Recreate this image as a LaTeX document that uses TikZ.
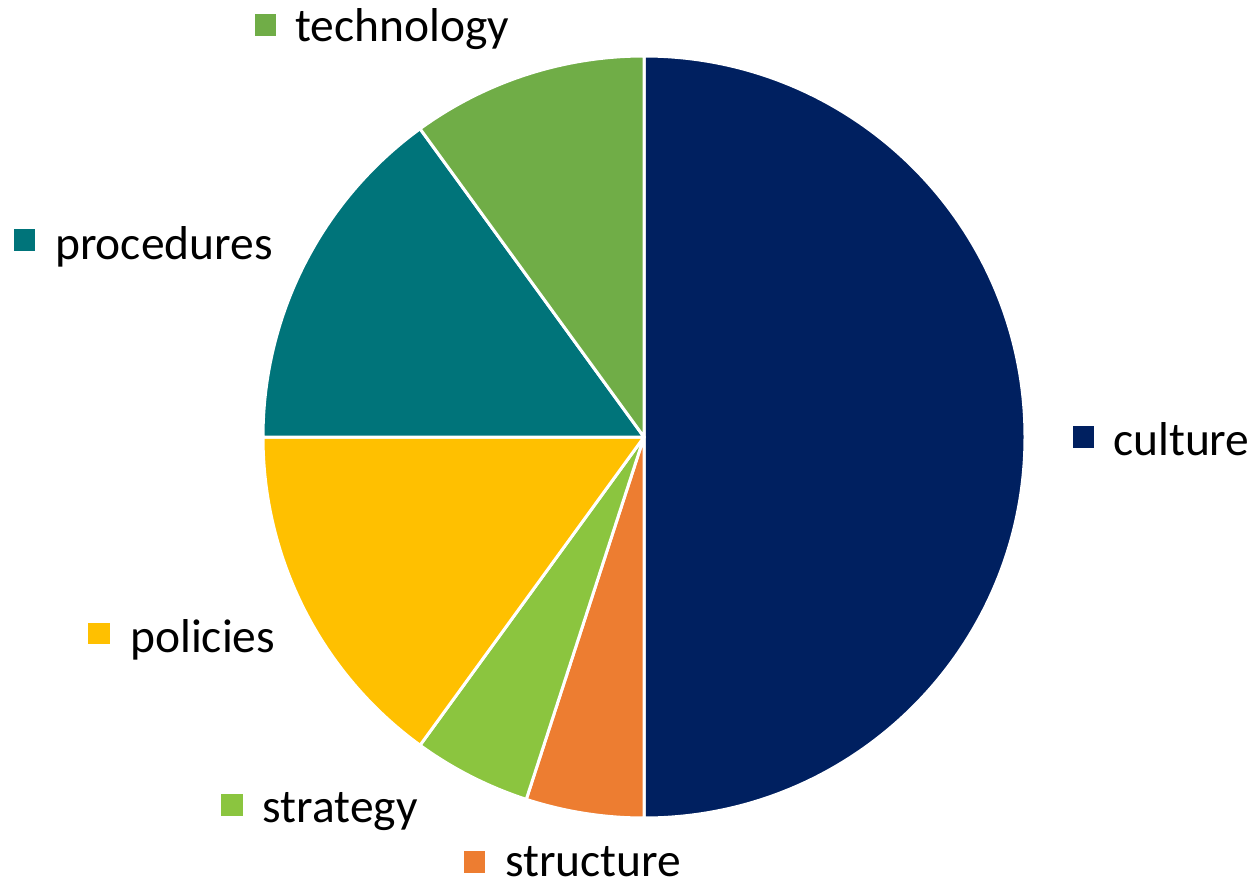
\documentclass[tikz,border=0pt]{standalone}
\usepackage{fontspec}
\setmainfont{Carlito}
\definecolor{cculture}{HTML}{002060}
\definecolor{cstructure}{HTML}{ED7D31}
\definecolor{cstrategy}{HTML}{8BC53F}
\definecolor{cpolicies}{HTML}{FFC000}
\definecolor{cprocedures}{HTML}{00747A}
\definecolor{ctechnology}{HTML}{70AD47}
\begin{document}
\begin{tikzpicture}[x=1pt,y=-1pt,
  slice/.style={draw=white,line width=3pt,line join=round},
  legsq/.style={minimum size=21.5pt,inner sep=0pt,draw=none},
  legtxt/.style={anchor=base west,inner sep=0pt,font=\fontsize{47.5}{56}\selectfont}]
\useasboundingbox (0,0) rectangle (1256,883);
\coordinate (c) at (644,437);
\def\R{381}
% slices (y axis flipped: angles run clockwise on the page)
\draw[slice,fill=cculture] (c) -- ++(-90:\R) arc[start angle=-90,end angle=90,radius=\R] -- cycle;
\draw[slice,fill=cstructure] (c) -- ++(90:\R) arc[start angle=90,end angle=108,radius=\R] -- cycle;
\draw[slice,fill=cstrategy] (c) -- ++(108:\R) arc[start angle=108,end angle=126,radius=\R] -- cycle;
\draw[slice,fill=cpolicies] (c) -- ++(126:\R) arc[start angle=126,end angle=180,radius=\R] -- cycle;
\draw[slice,fill=cprocedures] (c) -- ++(180:\R) arc[start angle=180,end angle=234,radius=\R] -- cycle;
\draw[slice,fill=ctechnology] (c) -- ++(234:\R) arc[start angle=234,end angle=270,radius=\R] -- cycle;
% legend
\node[legsq,fill=ctechnology] (sqtech) at (265.5,25) {};
\node[legtxt] (ttech) at (295,42) {technology};
\node[legsq,fill=cprocedures] (sqproc) at (24.5,240) {};
\node[legtxt] (tproc) at (55,259) {procedures};
\node[legsq,fill=cculture] (sqcult) at (1083.5,437) {};
\node[legtxt] (tcult) at (1113,455) {culture};
\node[legsq,fill=cpolicies] (sqpol) at (99,633.5) {};
\node[legtxt] (tpol) at (130,652) {policies};
\node[legsq,fill=cstrategy] (sqstrat) at (232,805) {};
\node[legtxt] (tstrat) at (262.5,822) {strategy};
\node[legsq,fill=cstructure] (sqstruc) at (474.5,862) {};
\node[legtxt] (tstruc) at (505,876) {structure};
\end{tikzpicture}
\end{document}
